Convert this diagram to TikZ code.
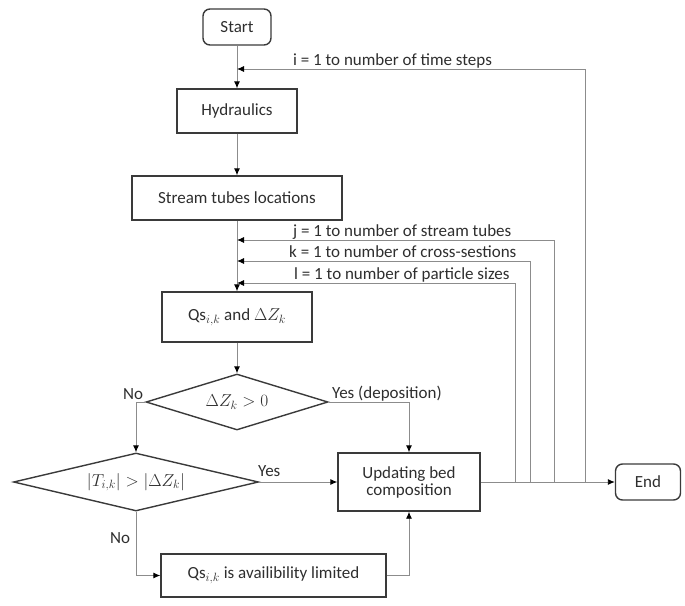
\documentclass[tikz,border=0pt]{standalone}
\usepackage{fontspec}
\setmainfont{Carlito}
\usetikzlibrary{shapes.geometric,arrows.meta,calc}
\definecolor{boxc}{HTML}{3A3A3A}
\definecolor{linec}{HTML}{8C8C8C}
\definecolor{txtc}{HTML}{2E2E2E}
\begin{document}
\begin{tikzpicture}[x=1pt,y=-1pt,
  every node/.style={text=txtc,font=\fontsize{17}{20}\selectfont},
  box/.style={draw=boxc,line width=1.4pt,rectangle,inner sep=2pt,align=center},
  term/.style={box,rounded corners=7pt},
  dia/.style={draw=boxc,line width=1.4pt,diamond,inner sep=0pt},
  conn/.style={draw=linec,line width=0.9pt},
  arr/.style={conn,-{Latex[length=7pt,width=6pt,color=black]}},
  lbl/.style={inner sep=1pt}
]
\useasboundingbox (0,0) rectangle (685,605);
% nodes
\node[term,minimum width=68pt,minimum height=36pt] (start) at (237,27) {Start};
\node[box,minimum width=120pt,minimum height=44pt] (hyd) at (237,111) {Hydraulics};
\node[box,minimum width=210pt,minimum height=44pt] (str) at (237,198) {Stream tubes locations};
\node[box,minimum width=150pt,minimum height=50pt] (qs) at (237,317) {Qs$_{i,k}$ and $\Delta Z_k$};
\node[dia,aspect=3.25,minimum width=182pt,minimum height=56pt] (d1) at (237,402) {$\Delta Z_k>0$};
\node[dia,aspect=4.2,minimum width=245pt,minimum height=58pt] (d2) at (136,482) {$\left|T_{i,k}\right| > |\Delta Z_k|$};
\node[box,minimum width=142pt,minimum height=58pt] (upd) at (409,482) {Updating bed\\[-3pt]composition};
\node[term,minimum width=65pt,minimum height=36pt] (end) at (648,482) {End};
\node[box,minimum width=225pt,minimum height=43pt] (avail) at (273.5,575.5) {Qs$_{i,k}$ is availibility limited};
% main flow
\draw[arr] (start) -- (hyd);
\draw[arr] (hyd) -- (str);
\draw[arr] (str) -- (qs);
\draw[arr] (qs) -- (d1);
\draw[arr] (d1.west) -| (d2.north);
\draw[arr] (d1.east) -| (upd.north);
\draw[arr] (d2.east) -- (upd.west);
\draw[arr] (d2.south) |- (avail.west);
\draw[arr] (avail.east) -| (upd.south);
\draw[arr] (upd.east) -- (end.west);
% loops
\coordinate (iR) at (585,69);
\coordinate (jR) at (554,240);
\coordinate (kR) at (530,261);
\coordinate (lR) at (515,283);
\draw[arr] (iR |- upd.east) -- (iR) -- (iR -| start.south);
\draw[arr] (jR |- upd.east) -- (jR) -- (jR -| str.south);
\draw[arr] (kR |- upd.east) -- (kR) -- (kR -| str.south);
\draw[arr] (lR |- upd.east) -- (lR) -- (lR -| str.south);
% labels
\node[lbl,anchor=base west] (li) at (292,65) {i = 1 to number of time steps};
\node[lbl,anchor=base west] (lj) at (292,236) {j = 1 to number of stream tubes};
\node[lbl,anchor=base west] (lk) at (288,257) {k = 1 to number of cross-sestions};
\node[lbl,anchor=base west] (ll) at (293,279) {l = 1 to number of particle sizes};
\node[lbl] (no1) at (133,394) {No};
\node[lbl,anchor=west] (yes1) at (331,394) {Yes (deposition)};
\node[lbl,anchor=west] (yes2) at (257,471) {Yes};
\node[lbl] (no2) at (120,538) {No};
\end{tikzpicture}
\end{document}
